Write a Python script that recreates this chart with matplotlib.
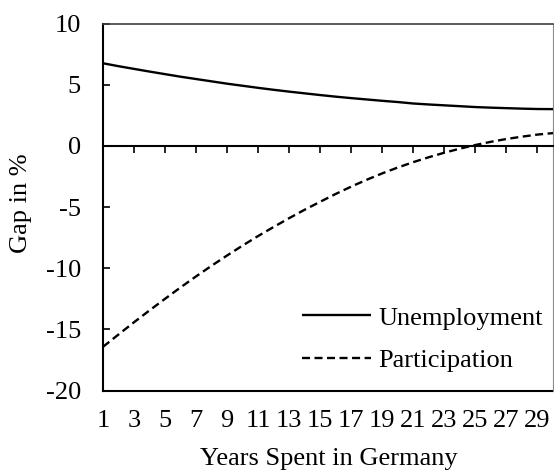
import numpy as np
import matplotlib
matplotlib.use("Agg")
import matplotlib.pyplot as plt

# years spent in Germany
years = list(range(1, 31))

# gap in %
unemployment = [6.75, 6.51, 6.29, 6.07, 5.86, 5.65, 5.46, 5.27, 5.08, 4.91,
                4.74, 4.58, 4.43, 4.29, 4.15, 4.02, 3.90, 3.79, 3.68, 3.58,
                3.46, 3.38, 3.31, 3.24, 3.17, 3.12, 3.08, 3.04, 3.01, 3.00]
participation = [-16.43, -15.42, -14.42, -13.45, -12.50, -11.57, -10.67, -9.80, -8.96, -8.15,
                 -7.37, -6.63, -5.91, -5.22, -4.57, -3.93, -3.33, -2.77, -2.25, -1.77,
                 -1.33, -0.93, -0.56, -0.23, 0.07, 0.33, 0.56, 0.75, 0.92, 1.04]

xtick_vals = list(range(1, 30, 2))
ytick_vals = [-20, -15, -10, -5, 0, 5, 10]

plt.rcParams['font.family'] = ['Liberation Serif', 'DejaVu Serif']
FS = 19

fig = plt.figure(figsize=(5.54, 4.74), dpi=100)
ax = fig.add_axes([103/554, 1-390.5/474, 450/554, 367/474])

ax.plot(years, unemployment, color='black', lw=1.7, solid_capstyle='butt',
        label='Unemployment')
ax.plot(years, participation, color='black', lw=1.7, dashes=(3.4, 1.9),
        label='Participation')

ax.set_xlim(1, 30)
ax.set_ylim(-20, 10)

# x axis crosses at zero, labels sit below the plot area
ax.spines['bottom'].set_position(('data', 0))
ax.spines['bottom'].set_linewidth(1.5)
ax.spines['left'].set_linewidth(1.5)
ax.spines['top'].set_color('#404040')
ax.spines['top'].set_linewidth(1.2)
ax.spines['right'].set_color('#8a8a8a')
ax.spines['right'].set_linewidth(0.8)
# plot area bottom border at -20
ax.plot([0, 1], [0, 0], transform=ax.transAxes, color='black', lw=1.5,
        clip_on=False, solid_capstyle='projecting')

ax.set_xticks(xtick_vals)
ax.set_xticklabels([str(v) for v in xtick_vals])
ax.set_yticks(ytick_vals)
ax.set_yticklabels([str(v) for v in ytick_vals])
ax.tick_params(axis='x', direction='out', length=5, width=1.2, pad=185,
               labelsize=FS)
ax.tick_params(axis='y', direction='in', length=5, width=1.2, pad=16,
               labelsize=FS)

leg = ax.legend(loc='lower right', bbox_to_anchor=(0.977, 0.05), frameon=False,
                fontsize=FS, handlelength=2.6, handletextpad=0.27,
                labelspacing=0.72, borderpad=0, borderaxespad=0)

fig.text(21/554, 1-203/474, 'Gap in %', rotation=90, ha='center', va='center',
         fontsize=FS)
fig.text(328.5/554, 1-459/474, 'Years Spent in Germany', ha='center',
         va='center', fontsize=FS)

fig.savefig('out.png', dpi=100)
